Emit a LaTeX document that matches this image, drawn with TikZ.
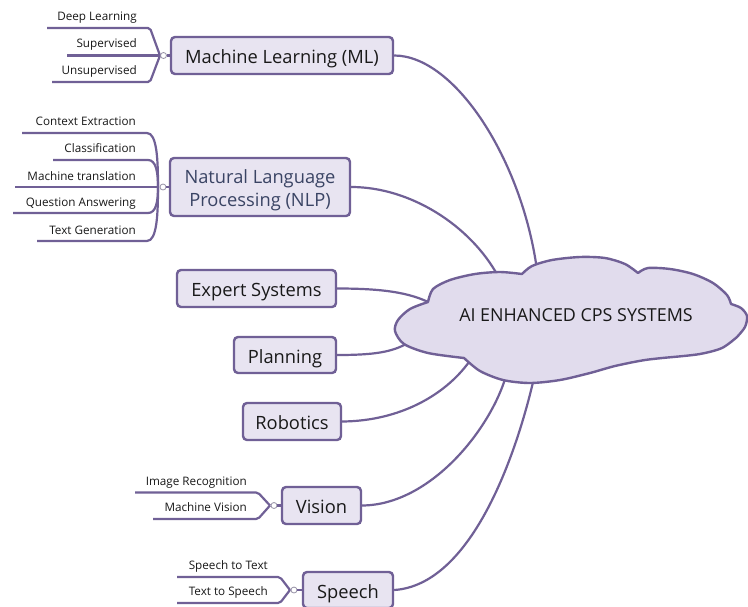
\documentclass[tikz,border=0pt]{standalone}
\usepackage{fontspec}
\setmainfont{Open Sans}
\definecolor{lc}{RGB}{112,96,150}
\definecolor{bf}{RGB}{232,228,241}
\definecolor{cf}{RGB}{225,220,237}
\definecolor{nlpc}{RGB}{58,68,100}
\definecolor{tc}{RGB}{25,25,25}
\definecolor{kc}{RGB}{150,145,165}
\tikzset{
 topic/.style={draw=lc, fill=bf, line width=2.4pt, rounded corners=4pt, inner sep=0pt, align=center, font=\fontsize{18.3}{23}\selectfont, text=tc, text height=17pt, text depth=1pt},
 conn/.style={draw=lc, line width=2.2pt},
 sub/.style={draw=lc, line width=2.2pt},
 subr/.style={draw=lc, line width=2.2pt, rounded corners=2pt},
 sublabel/.style={anchor=base east, inner sep=0pt, font=\fontsize{11.7}{13}\selectfont, text=tc},
 knob/.style={circle, draw=kc, fill=white, line width=0.8pt, inner sep=0pt, minimum size=6pt},
}
\begin{document}
\begin{tikzpicture}[x=1pt,y=-1pt]
\clip (0,0) rectangle (748,606);
\fill[white] (0,0) rectangle (748,606);

% topic nodes
\node[topic, minimum width=222pt, minimum height=37pt] (ml) at (282,55.5) {Machine Learning (ML)};
\node[draw=lc, fill=bf, line width=2.4pt, rounded corners=4pt, inner sep=0pt, minimum width=180pt, minimum height=58pt] (nlp) at (260,187) {};
\node[align=center, inner sep=0pt, font=\fontsize{18.3}{23.5}\selectfont, text=nlpc] (nlptext) at (260,190) {Natural Language\\Processing (NLP)};
\node[topic, minimum width=159pt, minimum height=37pt] (exp) at (256.5,288.5) {Expert Systems};
\node[topic, minimum width=102pt, minimum height=36pt] (plan) at (285,355) {Planning};
\node[topic, minimum width=98pt, minimum height=37pt] (rob) at (292,421.5) {Robotics};
\node[topic, minimum width=79pt, minimum height=37pt] (vis) at (321.5,505.5) {Vision};
\node[topic, minimum width=90pt, minimum height=36pt] (sp) at (348,590) {Speech};

% connector end points on the cloud
\coordinate (eML) at (537,270);
\coordinate (eNLP) at (498,276);
\coordinate (eEXP) at (432,304);
\coordinate (ePLAN) at (408,343);
\coordinate (eROB) at (469,362);
\coordinate (eVIS) at (506,376);
\coordinate (eSP) at (534,378);

\draw[conn] (ml.east) .. controls (455,55.5) and (522,160) .. (eML);
\draw[conn] (nlp.east) .. controls (410,187) and (470,225) .. (eNLP);
\draw[conn] (exp.east) .. controls (380,288.5) and (410,292) .. (eEXP);
\draw[conn] (plan.east) .. controls (375,355) and (392,352) .. (ePLAN);
\draw[conn] (rob.east) .. controls (400,421) and (445,395) .. (eROB);
\draw[conn] (vis.east) .. controls (430,505) and (490,430) .. (eVIS);
\draw[conn] (sp.east) .. controls (470,585) and (515,460) .. (eSP);

% cloud
\filldraw[draw=lc, fill=cf, line width=2.4pt, line join=round]
 plot[smooth] coordinates {(428,302) (410,309) (398,320) (395,331) (404,344) (428,353) (464,358)}
 -- plot[smooth] coordinates {(464,358) (480,371) (503,380) (530,383) (560,380) (590,373) (615,366) (645,360) (673,357)}
 -- plot[smooth] coordinates {(673,357) (700,354) (722,348) (737,337)}
 -- plot[smooth] coordinates {(737,337) (745,327) (747,316) (741,308) (731,304)}
 -- plot[smooth] coordinates {(731,304) (727,295) (713,283) (693,274) (670,269) (648,268) (638,273)}
 -- plot[smooth] coordinates {(638,273) (625,264) (605,258) (580,257) (552,260) (532,266) (522,274)}
 -- plot[smooth] coordinates {(522,274) (500,272) (475,274) (450,280) (433,289) (428,302)}
 -- cycle;
\node[font=\fontsize{17.9}{20}\selectfont, text=tc] (cloud) at (576,315) {AI ENHANCED CPS SYSTEMS};

% ML subtopics
\coordinate (jML) at (160,55.5);
\draw[subr] (47,28) -- (150,28) -- (jML);
\draw[sub] (67,55.5) -- (jML);
\draw[subr] (52,82) -- (150,82) -- (jML);
\node[knob] (kML) at (163.5,55.5) {};
\draw[sub] (kML) -- (ml);
\node[sublabel] (dl) at (137,20.7) {Deep Learning};
\node[sublabel] (sup) at (137,47.3) {Supervised};
\node[sublabel] (uns) at (137,74) {Unsupervised};

% NLP subtopics
\coordinate (jNLP) at (158,187);
\draw[sub] (22,133) -- (147,133) .. controls (157,133) and (158,160) .. (jNLP);
\draw[sub] (53,160) -- (148,160) .. controls (156,160) and (158,172) .. (jNLP);
\draw[sub] (15,187) -- (jNLP);
\draw[sub] (13,213) -- (148,213) .. controls (156,213) and (158,202) .. (jNLP);
\draw[sub] (37,241) -- (147,241) .. controls (157,241) and (158,214) .. (jNLP);
\node[knob] (kNLP) at (163,187) {};
\draw[sub] (kNLP) -- (nlp);
\node[sublabel] (ce) at (136,125.7) {Context Extraction};
\node[sublabel] (cl) at (136,152.7) {Classification};
\node[sublabel] (mt) at (136,180) {Machine translation};
\node[sublabel] (qa) at (136,206.7) {Question Answering};
\node[sublabel] (tg) at (136,234) {Text Generation};

% Vision subtopics
\coordinate (jVIS) at (270,505.5);
\draw[subr] (135,492.5) -- (258,492.5) -- (jVIS);
\draw[subr] (153,519) -- (258,519) -- (jVIS);
\node[knob] (kVIS) at (274,505.5) {};
\draw[sub] (kVIS) -- (vis);
\node[sublabel] (ir) at (247,485) {Image Recognition};
\node[sublabel] (mv) at (247,511.7) {Machine Vision};

% Speech subtopics
\coordinate (jSP) at (290,590);
\draw[subr] (177,577) -- (280,577) -- (jSP);
\draw[subr] (177,603) -- (280,603) -- (jSP);
\node[knob] (kSP) at (294,590) {};
\draw[sub] (kSP) -- (sp);
\node[sublabel] (stt) at (268,569) {Speech to Text};
\node[sublabel] (tts) at (268,595.7) {Text to Speech};
\end{tikzpicture}
\end{document}
